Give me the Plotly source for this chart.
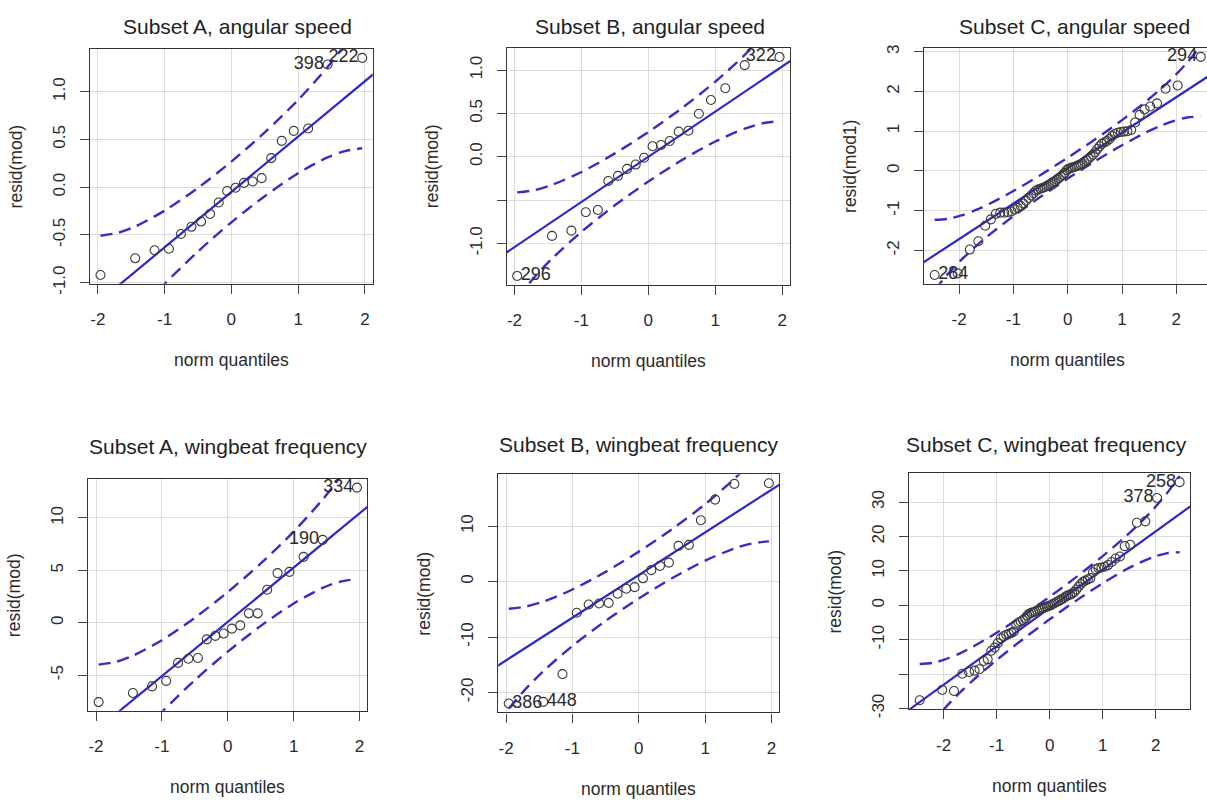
import plotly.graph_objects as go

# ---------------- data ----------------
q20 = [-1.960, -1.440, -1.150, -0.935, -0.755, -0.598, -0.454, -0.319, -0.189, -0.063,
       0.063, 0.189, 0.319, 0.454, 0.598, 0.755, 0.935, 1.150, 1.440, 1.960]

q70 = [-2.450, -2.025, -1.803, -1.645, -1.519, -1.415, -1.324, -1.242, -1.168, -1.100,
       -1.036, -0.977, -0.921, -0.867, -0.817, -0.767, -0.720, -0.674, -0.630, -0.587,
       -0.545, -0.504, -0.464, -0.424, -0.385, -0.347, -0.309, -0.272, -0.235, -0.198,
       -0.162, -0.126, -0.090, -0.054, -0.018, 0.018, 0.054, 0.090, 0.126, 0.162,
       0.198, 0.235, 0.272, 0.309, 0.347, 0.385, 0.424, 0.464, 0.504, 0.545,
       0.587, 0.630, 0.674, 0.720, 0.767, 0.817, 0.867, 0.921, 0.977, 1.036,
       1.100, 1.168, 1.242, 1.324, 1.415, 1.519, 1.645, 1.803, 2.025, 2.450]

resid_A_ang = [-0.92, -0.745, -0.66, -0.645, -0.49, -0.415, -0.36, -0.28, -0.16, -0.04,
               -0.005, 0.045, 0.06, 0.095, 0.305, 0.485, 0.59, 0.615, 1.285, 1.355]
resid_B_ang = [-1.375, -0.913, -0.852, -0.64, -0.614, -0.28, -0.22, -0.14, -0.09, -0.011,
               0.121, 0.136, 0.182, 0.29, 0.30, 0.496, 0.655, 0.79, 1.057, 1.152]
resid_C_ang = [-2.62, -2.58, -1.98, -1.77, -1.38, -1.22, -1.08, -1.05, -1.05, -1.04,
               -1.02, -0.97, -0.93, -0.88, -0.82, -0.75, -0.68, -0.62, -0.56, -0.50,
               -0.47, -0.45, -0.43, -0.41, -0.38, -0.35, -0.32, -0.29, -0.26, -0.22,
               -0.18, -0.14, -0.10, -0.05, 0.02, 0.05, 0.07, 0.09, 0.10, 0.12,
               0.14, 0.16, 0.19, 0.23, 0.27, 0.31, 0.36, 0.41, 0.47, 0.55,
               0.62, 0.68, 0.72, 0.75, 0.80, 0.88, 0.93, 0.96, 0.98, 0.99,
               1.00, 1.03, 1.22, 1.41, 1.55, 1.62, 1.70, 2.07, 2.15, 2.87]
resid_A_wb = [-7.57, -6.70, -6.07, -5.55, -3.83, -3.43, -3.36, -1.59, -1.25, -1.03,
              -0.56, -0.25, 0.90, 0.90, 3.15, 4.74, 4.86, 6.29, 7.91, 12.9]
resid_B_wb = [-22.0, -21.7, -16.7, -5.62, -4.14, -3.96, -3.85, -2.19, -1.30, -1.0,
              0.59, 2.07, 2.84, 3.43, 6.45, 6.63, 11.07, 14.79, 17.63, 17.75]
resid_C_wb = [-27.6, -24.6, -24.9, -19.9, -19.4, -19.0, -18.6, -16.2, -15.7, -13.2,
              -12.3, -11.0, -9.6, -9.0, -8.6, -8.3, -8.0, -7.6, -5.6, -5.0,
              -4.7, -4.3, -3.8, -3.0, -2.5, -2.2, -2.0, -1.8, -1.5, -1.2,
              -1.0, -0.8, -0.6, -0.4, -0.2, 0.0, 0.3, 0.6, 0.9, 1.2,
              1.5, 1.8, 2.2, 2.6, 2.9, 3.1, 3.4, 3.9, 4.6, 5.4,
              6.2, 6.8, 7.2, 7.5, 7.9, 9.6, 10.5, 10.8, 11.0, 11.2,
              11.7, 12.6, 13.6, 14.2, 17.2, 17.6, 24.0, 24.4, 31.2, 35.8]

# envelope positions and values (95% pointwise envelope)
z20 = [-1.96, -1.7, -1.44, -1.0, -0.5, 0.0, 0.5, 1.0, 1.44, 1.7, 1.96]
z70 = [-2.45, -2.2, -1.96, -1.7, -1.44, -1.0, -0.5, 0.0, 0.5, 1.0, 1.44, 1.7, 1.96, 2.2, 2.45]

env_A_ang_up = [-0.508, -0.478, -0.412, -0.246, -0.007, 0.268, 0.574, 0.914, 1.258, 1.494, 1.766]
env_A_ang_lo = [-1.866, -1.594, -1.358, -1.014, -0.674, -0.368, -0.094, 0.146, 0.312, 0.378, 0.408]
env_B_ang_up = [-0.411, -0.385, -0.325, -0.176, 0.039, 0.286, 0.560, 0.866, 1.175, 1.387, 1.631]
env_B_ang_lo = [-1.631, -1.387, -1.175, -0.866, -0.560, -0.286, -0.039, 0.176, 0.325, 0.385, 0.411]
env_C_ang_up = [-1.230, -1.205, -1.121, -0.989, -0.827, -0.507, -0.103, 0.333, 0.791, 1.279,
                1.745, 2.047, 2.379, 2.725, 3.146]
env_C_ang_lo = [-3.006, -2.585, -2.239, -1.907, -1.605, -1.139, -0.651, -0.193, 0.243, 0.647,
                0.967, 1.129, 1.261, 1.345, 1.370]
env_A_wb_up = [-3.998, -3.733, -3.142, -1.661, 0.479, 2.934, 5.659, 8.699, 11.776, 13.879, 16.308]
env_A_wb_lo = [-16.128, -13.699, -11.596, -8.519, -5.479, -2.754, -0.299, 1.841, 3.322, 3.913, 4.178]
env_B_wb_up = [-4.896, -4.503, -3.625, -1.423, 1.758, 5.407, 9.458, 13.977, 18.551, 21.677, 25.288]
env_B_wb_lo = [-22.928, -19.317, -16.191, -11.617, -7.098, -3.047, 0.602, 3.783, 5.985, 6.863, 7.256]
env_C_wb_up = [-17.04, -16.71, -15.67, -14.03, -12.00, -8.00, -2.96, 2.48, 8.20, 14.30,
               20.12, 23.89, 28.03, 32.35, 37.60]
env_C_wb_lo = [-39.20, -33.95, -29.63, -25.49, -21.72, -15.90, -9.80, -4.08, 1.36, 6.40,
               10.40, 12.43, 14.07, 15.11, 15.44]

# reference lines: (intercept, slope)
fit_A_ang = (-0.05, 0.58)
fit_B_ang = (0.0, 0.521)
fit_C_ang = (0.07, 0.893)
fit_A_wb = (0.09, 5.18)
fit_B_wb = (1.18, 7.70)
fit_C_wb = (-0.80, 11.15)

# labelled points: (index, label, side)
labels_A_ang = [(18, "398", "left"), (19, "222", "left")]
labels_B_ang = [(19, "322", "left"), (0, "296", "right")]
labels_C_ang = [(69, "294", "left"), (0, "284", "right")]
labels_A_wb = [(19, "334", "left"), (18, "190", "left")]
labels_B_wb = [(0, "386", "right"), (1, "448", "right")]
labels_C_wb = [(69, "258", "left"), (68, "378", "left")]

titles = ["Subset A, angular speed", "Subset B, angular speed", "Subset C, angular speed",
          "Subset A, wingbeat frequency", "Subset B, wingbeat frequency", "Subset C, wingbeat frequency"]
ylabels = ["resid(mod)", "resid(mod)", "resid(mod1)", "resid(mod)", "resid(mod)", "resid(mod)"]
xlabel = "norm quantiles"
xticks = [-2, -1, 0, 1, 2]
yticks = [
    ([-1.0, -0.5, 0.0, 0.5, 1.0], ["-1.0", "-0.5", "0.0", "0.5", "1.0"]),
    ([-1.0, -0.5, 0.0, 0.5, 1.0], ["-1.0", "", "0.0", "0.5", "1.0"]),
    ([-2, -1, 0, 1, 2, 3], ["-2", "-1", "0", "1", "2", "3"]),
    ([-5, 0, 5, 10], ["-5", "0", "5", "10"]),
    ([-20, -10, 0, 10], ["-20", "-10", "0", "10"]),
    ([-30, -20, -10, 0, 10, 20, 30], ["-30", "", "-10", "0", "10", "20", "30"]),
]

# ---------------- layout (pixels) ----------------
W, H = 1207, 809
# plot boxes: left, top, right, bottom
boxes = [(90, 46, 372.7, 285), (506.7, 45, 790, 286), (924, 45, 1207, 285),
         (88.3, 484, 367.3, 720), (498.3, 479.3, 779.3, 721.7), (909.3, 478.3, 1190, 718.3)]
title_pos = [(237, 23), (650, 23), (1074, 23), (228, 451), (639, 449), (1046, 449)]

FONT = "Liberation Sans, Arial, Helvetica, sans-serif"
TXT = "#2a2a2a"
BLUE = "#2a28cc"
DASHBLUE = "#3a2cc2"

panels = [
    (q20, resid_A_ang, z20, env_A_ang_up, env_A_ang_lo, fit_A_ang, labels_A_ang),
    (q20, resid_B_ang, z20, env_B_ang_up, env_B_ang_lo, fit_B_ang, labels_B_ang),
    (q70, resid_C_ang, z70, env_C_ang_up, env_C_ang_lo, fit_C_ang, labels_C_ang),
    (q20, resid_A_wb, z20, env_A_wb_up, env_A_wb_lo, fit_A_wb, labels_A_wb),
    (q20, resid_B_wb, z20, env_B_wb_up, env_B_wb_lo, fit_B_wb, labels_B_wb),
    (q70, resid_C_wb, z70, env_C_wb_up, env_C_wb_lo, fit_C_wb, labels_C_wb),
]

fig = go.Figure()
annotations = []
layout = {}


def padded(vals):
    lo, hi = min(vals), max(vals)
    d = (hi - lo) * 0.04
    return [lo - d, hi + d]


for i, (qx, ry, zz, up, lo, fit, labs) in enumerate(panels):
    k = "" if i == 0 else str(i + 1)
    xa, ya = "x" + k, "y" + k
    L, T, R, B = boxes[i]
    xr = padded(qx)
    if i == 2:
        # the right part of this panel is cut by the picture edge
        full_w = (xr[1] - xr[0])
        xr = [xr[0], xr[0] + full_w * (R - L) / (1211.4 - L)]
    yr = padded(ry)

    # envelope
    for env in (up, lo):
        fig.add_trace(go.Scatter(x=zz, y=env, xaxis=xa, yaxis=ya, mode="lines",
                                 line=dict(color=DASHBLUE, width=2.4, dash="12px,7px",
                                           shape="spline", smoothing=0.8),
                                 hoverinfo="skip", showlegend=False))
    # reference line
    a, b = fit
    lx = [xr[0] - 0.2, xr[1] + 0.2]
    fig.add_trace(go.Scatter(x=lx, y=[a + b * v for v in lx], xaxis=xa, yaxis=ya, mode="lines",
                             line=dict(color=BLUE, width=2.2), hoverinfo="skip", showlegend=False))
    # points
    fig.add_trace(go.Scatter(x=qx, y=ry, xaxis=xa, yaxis=ya, mode="markers",
                             marker=dict(symbol="circle-open", size=9, color="#3a3a3a",
                                         line=dict(width=1.1, color="#3a3a3a")),
                             showlegend=False))
    # point labels
    for idx, text, side in labs:
        fig.add_trace(go.Scatter(x=[qx[idx]], y=[ry[idx]], xaxis=xa, yaxis=ya, mode="text",
                                 text=["\u2009" + text if side == "right" else text + "\u2009"],
                                 textposition="middle right" if side == "right" else "middle left",
                                 textfont=dict(family=FONT, size=18, color=TXT),
                                 cliponaxis=False, hoverinfo="skip", showlegend=False))

    xd = [L / W, R / W]
    yd = [1 - B / H, 1 - T / H]
    tv, tt = yticks[i]
    layout["xaxis" + k] = dict(domain=xd, anchor=ya, range=xr, tickvals=xticks,
                               ticktext=[str(v) for v in xticks],
                               showgrid=True, gridcolor="#dcdcdc", gridwidth=1,
                               zeroline=False, showline=True, mirror=True,
                               linecolor="#333333", linewidth=1.4,
                               ticks="outside", ticklen=9, tickwidth=1.2, tickcolor="#444444",
                               tickfont=dict(family=FONT, size=17, color=TXT),
                               ticklabelstandoff=11)
    layout["yaxis" + k] = dict(domain=yd, anchor=xa, range=yr, tickvals=tv, ticktext=tt,
                               showgrid=True, gridcolor="#dcdcdc", gridwidth=1,
                               zeroline=False, showline=True, mirror=(i != 2),
                               linecolor="#333333", linewidth=1.4,
                               ticks="outside", ticklen=9, tickwidth=1.2, tickcolor="#444444",
                               tickangle=-90,
                               tickfont=dict(family=FONT, size=17, color=TXT),
                               ticklabelstandoff=8)

    cx = (L + R) / 2 if i != 2 else (L + 1211.4) / 2
    annotations.append(dict(text=titles[i], x=title_pos[i][0] / W, y=1 - title_pos[i][1] / H,
                            xref="paper", yref="paper", showarrow=False,
                            xanchor="center", yanchor="middle",
                            font=dict(family=FONT, size=21, color="#222222")))
    annotations.append(dict(text=xlabel, x=cx / W, y=1 - (B + 78) / H,
                            xref="paper", yref="paper", showarrow=False,
                            xanchor="center", yanchor="middle",
                            font=dict(family=FONT, size=17.5, color=TXT)))
    annotations.append(dict(text=ylabels[i], x=(L - 74) / W, y=1 - ((T + B) / 2) / H,
                            xref="paper", yref="paper", showarrow=False, textangle=-90,
                            xanchor="center", yanchor="middle",
                            font=dict(family=FONT, size=17.5, color=TXT)))

fig.update_layout(width=W, height=H, margin=dict(l=0, r=0, t=0, b=0),
                  paper_bgcolor="white", plot_bgcolor="white",
                  annotations=annotations, showlegend=False, **layout)

fig.write_html("out.html")
